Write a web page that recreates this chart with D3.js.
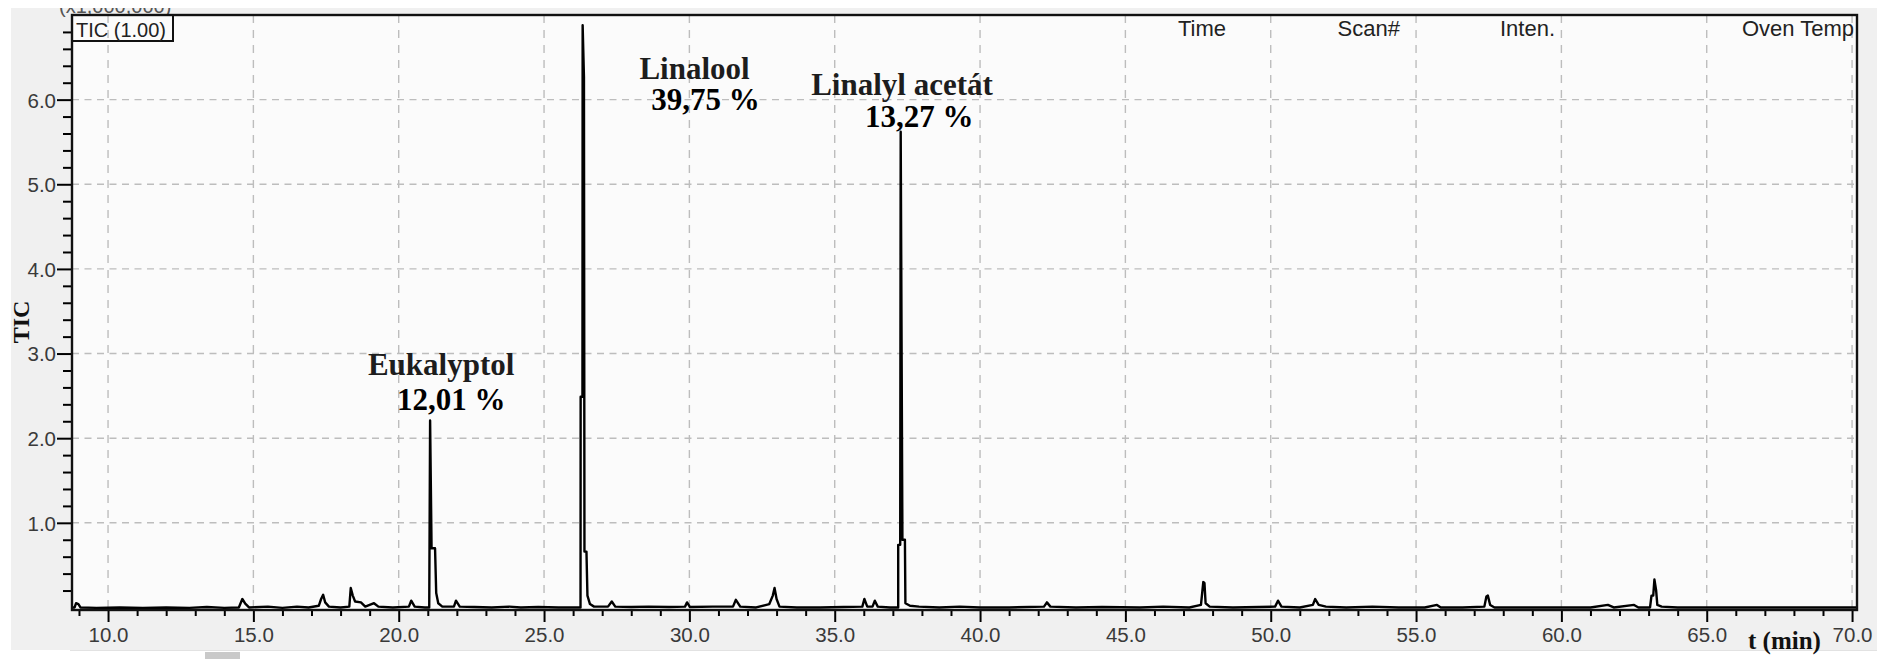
<!DOCTYPE html>
<html>
<head>
<meta charset="utf-8">
<script src="https://cdn.jsdelivr.net/npm/d3@7"></script>
<style>
  html, body { margin: 0; padding: 0; background: #ffffff; }
  svg { display: block; }
</style>
</head>
<body>
<svg id="chart" width="1890" height="659"></svg>
<script>
// ---- Data -------------------------------------------------------------
// Retention-time axis (min)
const timeTicks = [10, 15, 20, 25, 30, 35, 40, 45, 50, 55, 60, 65, 70];
const timeTickLabels = ["10.0", "15.0", "20.0", "25.0", "30.0", "35.0", "40.0",
                        "45.0", "50.0", "55.0", "60.0", "65.0", "70.0"];
// Total ion current axis (x1,000,000)
const ticTicks = [1, 2, 3, 4, 5, 6];
const ticTickLabels = ["1.0", "2.0", "3.0", "4.0", "5.0", "6.0"];

// Header of the data table shown above the trace
const headerColumns = ["Time", "Scan#", "Inten.", "Oven Temp"];

// Main identified compounds
const peakNames = ["Eukalyptol", "Linalool", "Linalyl acetát"];
const peakAreas = ["12,01 %", "39,75 %", "13,27 %"];

// TIC trace: [retention time (min), intensity (x1,000,000)]
const ticTrace = [
  [8.76, 0.0], [8.85, 0.0], [8.90, 0.05], [8.98, 0.04], [9.05, 0.0],
  [9.60, -0.005], [10.40, 0.0], [11.20, -0.005], [12.00, 0.0], [12.80, -0.005],
  [13.40, 0.005], [14.00, -0.005], [14.50, 0.0], [14.62, 0.10], [14.72, 0.045],
  [14.85, 0.0], [15.50, 0.01], [16.00, -0.005], [16.50, 0.01], [16.90, 0.0],
  [17.25, 0.02], [17.33, 0.10], [17.40, 0.15], [17.47, 0.06], [17.60, 0.01],
  [18.00, 0.0], [18.30, 0.01], [18.35, 0.23], [18.42, 0.14], [18.50, 0.07],
  [18.70, 0.06], [18.85, 0.01], [19.15, 0.05], [19.30, 0.01], [19.80, 0.0],
  [20.35, 0.01], [20.43, 0.08], [20.55, 0.01], [20.90, 0.0],
  // Eukalyptol
  [21.05, 0.0], [21.08, 2.21], [21.13, 0.70], [21.25, 0.70], [21.29, 0.17],
  [21.36, 0.05], [21.50, 0.01], [21.90, 0.01], [21.97, 0.08], [22.10, 0.01],
  [22.60, 0.005], [23.20, 0.0], [23.80, 0.01], [24.20, 0.0], [24.80, 0.005],
  [25.50, 0.0], [26.20, 0.0],
  // Linalool
  [26.255, 0.0], [26.259, 2.49], [26.321, 2.49], [26.328, 6.88], [26.373, 6.27],
  [26.390, 0.66], [26.459, 0.66], [26.493, 0.14], [26.58, 0.04], [26.72, 0.01],
  [27.20, 0.01], [27.33, 0.07], [27.45, 0.01], [28.00, 0.005], [28.60, 0.01],
  [29.30, 0.005], [29.85, 0.01], [29.92, 0.06], [30.02, 0.005], [30.80, 0.01],
  [31.50, 0.01], [31.60, 0.09], [31.75, 0.01], [32.30, 0.0], [32.75, 0.04],
  [32.87, 0.14], [32.93, 0.23], [33.00, 0.10], [33.10, 0.01], [33.70, 0.0],
  [34.50, 0.0], [35.30, 0.005], [35.95, 0.01], [36.02, 0.10], [36.12, 0.01],
  [36.30, 0.01], [36.38, 0.08], [36.48, 0.01], [36.90, 0.0], [37.105, 0.0],
  // Linalyl acetate
  [37.184, 0.0], [37.184, 0.74], [37.253, 0.74], [37.270, 5.62], [37.329, 0.80],
  [37.415, 0.80], [37.432, 0.05], [37.59, 0.02], [37.90, 0.01],
  [38.60, 0.0], [39.30, 0.01], [40.00, 0.0], [41.00, 0.0], [42.20, 0.01],
  [42.30, 0.06], [42.42, 0.01], [43.30, 0.0], [44.20, 0.005], [45.50, 0.0],
  [46.30, 0.01], [47.20, 0.0], [47.60, 0.03], [47.68, 0.30], [47.72, 0.29],
  [47.76, 0.05], [47.90, 0.01], [48.70, 0.0], [49.60, 0.005], [50.15, 0.01],
  [50.25, 0.08], [50.37, 0.01], [51.00, 0.0], [51.45, 0.03], [51.53, 0.10],
  [51.65, 0.03], [51.90, 0.01], [52.60, 0.0], [53.50, 0.01], [54.40, 0.0],
  [55.30, 0.0], [55.72, 0.03], [55.85, 0.0], [56.60, 0.0], [57.35, 0.01],
  [57.42, 0.13], [57.47, 0.14], [57.55, 0.03], [57.70, 0.0], [58.60, 0.0],
  [59.50, 0.0], [60.30, 0.0], [61.00, 0.0], [61.60, 0.03], [61.80, 0.0],
  [62.50, 0.03], [62.65, 0.0], [63.05, 0.0], [63.10, 0.14], [63.16, 0.14],
  [63.20, 0.33], [63.26, 0.20], [63.30, 0.03], [63.45, 0.01], [64.00, 0.0],
  [65.00, 0.0], [66.00, 0.0], [67.00, 0.0], [68.00, 0.0], [69.00, 0.0],
  [70.17, 0.0]
];

// ---- Layout -----------------------------------------------------------
const svg = d3.select("#chart");
const plot = { left: 72, top: 15, right: 1857, bottom: 610 };

const x = d3.scaleLinear().domain([8.76, 70.17]).range([plot.left, plot.right]);
const y = d3.scaleLinear().domain([-0.03, 7.0]).range([plot.bottom, plot.top]);

const sans = "'Liberation Sans', Arial, sans-serif";
const serif = "'Liberation Serif', 'Times New Roman', serif";

// Window panel behind the chart
svg.append("rect")
  .attr("x", 11).attr("y", 8).attr("width", 1866).attr("height", 642)
  .attr("fill", "#f0f0f0");

// Scroll bar strip at the bottom
svg.append("line")
  .attr("x1", 70).attr("x2", 1877).attr("y1", 650.5).attr("y2", 650.5)
  .attr("stroke", "#e2e2e2").attr("stroke-width", 1);
svg.append("rect")
  .attr("x", 205).attr("y", 652).attr("width", 35).attr("height", 7)
  .attr("fill", "#c9c9c9");

// Scale-factor caption, partly hidden behind the window edge
svg.append("clipPath").attr("id", "topClip")
  .append("rect").attr("x", 0).attr("y", 8).attr("width", 1890).attr("height", 10);
svg.append("text")
  .attr("clip-path", "url(#topClip)")
  .attr("x", 59).attr("y", 13)
  .attr("font-family", sans).attr("font-size", 20).attr("fill", "#555")
  .text("(x1,000,000)");

// Plot background
svg.append("rect")
  .attr("x", plot.left).attr("y", plot.top)
  .attr("width", plot.right - plot.left).attr("height", plot.bottom - plot.top)
  .attr("fill", "#fbfbfb");

// Dashed grid
const grid = svg.append("g").attr("stroke", "#bdbdbd").attr("stroke-width", 1.4);
grid.selectAll("line.v").data(timeTicks).join("line")
  .attr("class", "v")
  .attr("x1", d => x(d)).attr("x2", d => x(d))
  .attr("y1", plot.top).attr("y2", plot.bottom)
  .attr("stroke-dasharray", "8,7");
grid.selectAll("line.h").data(ticTicks).join("line")
  .attr("class", "h")
  .attr("x1", plot.left).attr("x2", plot.right)
  .attr("y1", d => y(d)).attr("y2", d => y(d))
  .attr("stroke-dasharray", "7,5.5");

// Header columns
const headerRightEdges = [1226, 1400, 1555, 1854];
svg.append("g").selectAll("text").data(headerColumns).join("text")
  .attr("x", (d, i) => headerRightEdges[i]).attr("y", 36)
  .attr("text-anchor", "end")
  .attr("font-family", sans).attr("font-size", 22).attr("fill", "#222")
  .text(d => d);

// TIC trace
const line = d3.line().x(d => x(d[0])).y(d => y(d[1]));
svg.append("path")
  .datum(ticTrace)
  .attr("d", line)
  .attr("fill", "none")
  .attr("stroke", "#000")
  .attr("stroke-width", 2.4)
  .attr("stroke-linejoin", "round");

// Axes: major ticks with labels
const xAxis = d3.axisBottom(x)
  .tickValues(timeTicks)
  .tickFormat((d, i) => timeTickLabels[i])
  .tickSize(12).tickSizeOuter(0);
const gx = svg.append("g").attr("transform", `translate(0,${plot.bottom})`).call(xAxis);
gx.select(".domain").remove();
gx.selectAll(".tick line").attr("stroke", "#000").attr("stroke-width", 2);
gx.selectAll(".tick text")
  .attr("y", 31.5).attr("dy", null)
  .attr("font-family", sans).attr("font-size", 20.5).attr("fill", "#3a3a3a");

const yAxis = d3.axisLeft(y)
  .tickValues(ticTicks)
  .tickFormat((d, i) => ticTickLabels[i])
  .tickSize(15).tickSizeOuter(0);
const gy = svg.append("g").attr("transform", `translate(${plot.left},0)`).call(yAxis);
gy.select(".domain").remove();
gy.selectAll(".tick line").attr("stroke", "#000").attr("stroke-width", 2);
gy.selectAll(".tick text")
  .attr("x", -16).attr("dy", "0.36em")
  .attr("font-family", sans).attr("font-size", 20.5).attr("fill", "#3a3a3a");

// Minor ticks
const xMinor = d3.range(9, 71, 1).filter(v => v % 5 !== 0);
const gxm = svg.append("g").attr("transform", `translate(0,${plot.bottom})`)
  .call(d3.axisBottom(x).tickValues(xMinor).tickFormat("").tickSize(6).tickSizeOuter(0));
gxm.select(".domain").remove();
gxm.selectAll(".tick line").attr("stroke", "#000").attr("stroke-width", 2);

const yMinor = d3.range(1, 35).map(k => k / 5).filter(v => Math.abs(v - Math.round(v)) > 1e-6);
const gym = svg.append("g").attr("transform", `translate(${plot.left},0)`)
  .call(d3.axisLeft(y).tickValues(yMinor).tickFormat("").tickSize(9).tickSizeOuter(0));
gym.select(".domain").remove();
gym.selectAll(".tick line").attr("stroke", "#000").attr("stroke-width", 2);

// Plot frame
svg.append("rect")
  .attr("x", plot.left).attr("y", plot.top)
  .attr("width", plot.right - plot.left).attr("height", plot.bottom - plot.top)
  .attr("fill", "none").attr("stroke", "#111").attr("stroke-width", 2.4);

// Trace caption box
svg.append("rect")
  .attr("x", plot.left).attr("y", plot.top).attr("width", 101).attr("height", 26)
  .attr("fill", "none").attr("stroke", "#111").attr("stroke-width", 2);
svg.append("text")
  .attr("x", plot.left + 4).attr("y", 37)
  .attr("font-family", sans).attr("font-size", 20).attr("fill", "#222")
  .text("TIC (1.00)");

// Compound annotations (anchor positions in axis units)
const labelAnchors = [
  { name: [18.94, 2.746], area: [19.94, 2.333] },
  { name: [28.28, 6.24],  area: [28.69, 5.877] },
  { name: [34.19, 6.055], area: [36.04, 5.677] }
];
const ann = svg.append("g").attr("font-family", serif).attr("font-weight", "bold")
  .attr("font-size", 31);
ann.selectAll("text.name").data(peakNames).join("text")
  .attr("class", "name")
  .attr("x", (d, i) => x(labelAnchors[i].name[0]))
  .attr("y", (d, i) => y(labelAnchors[i].name[1]))
  .attr("fill", "#1d1d1d")
  .text(d => d);
ann.selectAll("text.area").data(peakAreas).join("text")
  .attr("class", "area")
  .attr("x", (d, i) => x(labelAnchors[i].area[0]))
  .attr("y", (d, i) => y(labelAnchors[i].area[1]))
  .attr("fill", "#000")
  .text(d => d);

// Axis titles
svg.append("text")
  .attr("transform", "translate(29,322) rotate(-90)")
  .attr("text-anchor", "middle")
  .attr("font-family", serif).attr("font-weight", "bold").attr("font-size", 24)
  .attr("fill", "#111")
  .text("TIC");
svg.append("text")
  .attr("x", 1748).attr("y", 649)
  .attr("font-family", serif).attr("font-weight", "bold").attr("font-size", 25)
  .attr("fill", "#111")
  .text("t (min)");
</script>
</body>
</html>
